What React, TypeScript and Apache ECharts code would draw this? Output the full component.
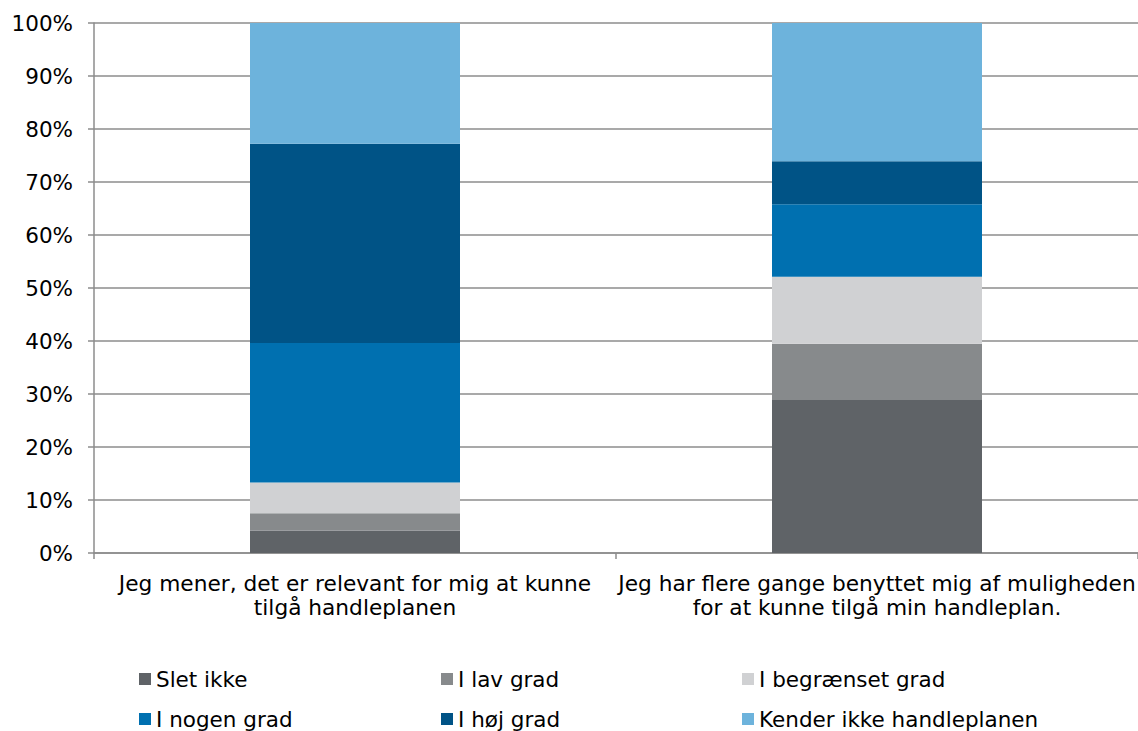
import React, { useEffect, useRef } from "react";
import * as echarts from "echarts";

const categories = [
  "Jeg mener, det er relevant for mig at kunne\ntilgå handleplanen",
  "Jeg har flere gange benyttet mig af muligheden\nfor at kunne tilgå min handleplan.",
];

const seriesNames = [
  "Slet ikke",
  "I lav grad",
  "I begrænset grad",
  "I nogen grad",
  "I høj grad",
  "Kender ikke handleplanen",
];

// Percent shares per category, in the order of seriesNames
const sletIkke = [4.2, 29.0];
const iLavGrad = [3.3, 10.5];
const iBegraensetGrad = [5.8, 12.6];
const iNogenGrad = [26.3, 13.7];
const iHoejGrad = [37.6, 8.1];
const kenderIkke = [22.8, 26.1];

const seriesValues = [sletIkke, iLavGrad, iBegraensetGrad, iNogenGrad, iHoejGrad, kenderIkke];

const colors = ["#5f6367", "#878a8c", "#d0d1d3", "#0070b0", "#005386", "#6db3dc"];

const FONT = "DejaVu Sans";

export default function App() {
  const ref = useRef<HTMLDivElement>(null);

  useEffect(() => {
    if (!ref.current) return;
    const chart = echarts.init(ref.current, undefined, { renderer: "svg" });

    const colX = [139, 441, 742];
    const rowY = [668, 708];

    chart.setOption({
      animation: false,
      backgroundColor: "#ffffff",
      color: colors,
      grid: { left: 94, right: -6, top: 23, bottom: 178, containLabel: false },
      legend: seriesNames.map((name, i) => ({
        data: [name],
        left: colX[i % 3],
        top: rowY[Math.floor(i / 3)],
        padding: 0,
        icon: "rect",
        itemWidth: 12,
        itemHeight: 12,
        selectedMode: false,
        textStyle: { fontFamily: FONT, fontSize: 21.5, color: "#000000" },
      })),
      xAxis: {
        type: "category",
        data: categories,
        axisLine: { show: true, lineStyle: { color: "#8c8c8c", width: 1.5 } },
        axisTick: { show: true, length: 6, lineStyle: { color: "#8c8c8c", width: 1.5 } },
        axisLabel: {
          fontFamily: FONT,
          fontSize: 21.7,
          color: "#000000",
          lineHeight: 24,
          margin: 18,
          interval: 0,
        },
      },
      yAxis: {
        type: "value",
        min: 0,
        max: 100,
        interval: 10,
        axisLine: { show: true, lineStyle: { color: "#8c8c8c", width: 1.5 } },
        axisTick: { show: true, length: 6, lineStyle: { color: "#8c8c8c", width: 1.5 } },
        splitLine: { show: true, lineStyle: { color: "#8c8c8c", width: 1.5 } },
        axisLabel: {
          fontFamily: FONT,
          fontSize: 21.5,
          color: "#000000",
          margin: 21,
          formatter: (v: number) => `${v}%`,
        },
      },
      series: seriesNames.map((name, i) => ({
        name,
        type: "bar",
        stack: "total",
        barWidth: 210,
        data: seriesValues[i],
        itemStyle: { color: colors[i] },
        emphasis: { disabled: true },
      })),
    });

    return () => chart.dispose();
  }, []);

  return (
    <div
      ref={ref}
      style={{ position: "absolute", left: 0, top: 0, width: 1138, height: 731, background: "#fff" }}
    />
  );
}
